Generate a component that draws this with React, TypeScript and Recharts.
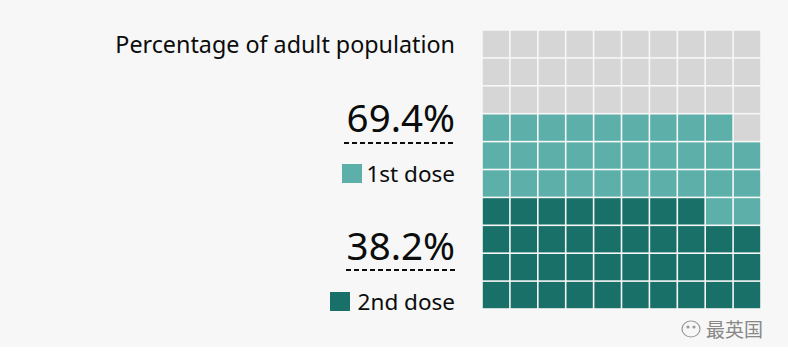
import { ScatterChart, Scatter, XAxis, YAxis } from "recharts";

const doses = ["1st dose", "2nd dose"];
const percentages = [69.4, 38.2];
const doseColors = ["#5db0aa", "#187068"];
const emptyColor = "#d6d6d6";
const gridSize = 10;

// one point per square, filled from the bottom row, left to right
const cells = Array.from({ length: gridSize * gridSize }, (_, i) => ({
  col: i % gridSize,
  row: Math.floor(i / gridSize),
  i,
}));
const secondCells = cells.filter((c) => c.i < Math.round(percentages[1]));
const firstCells = cells.filter(
  (c) => c.i >= Math.round(percentages[1]) && c.i < Math.round(percentages[0])
);
const emptyCells = cells.filter((c) => c.i >= Math.round(percentages[0]));

const W = 788;
const H = 364;
const margin = { top: 30, right: 27, bottom: 55, left: 482 };
const pitch = (W - margin.left - margin.right) / gridSize;

const square = (fill: string) => (props: any) => {
  const s = pitch - 1.6;
  return <rect x={props.cx - s / 2} y={props.cy - s / 2} width={s} height={s} fill={fill} />;
};

const font = "'Noto Sans', Arial, sans-serif";

export default function App() {
  return (
    <div style={{ position: "absolute", left: 0, top: 0, width: W, height: H, background: "#fff" }}>
      <div style={{ position: "absolute", left: 0, top: 0, width: W, height: 347, background: "#f7f7f7" }} />
      <div style={{ position: "absolute", left: 0, top: 0 }}>
        <ScatterChart width={W} height={H} margin={margin}>
          <XAxis type="number" dataKey="col" domain={[-0.5, gridSize - 0.5]} hide />
          <YAxis type="number" dataKey="row" domain={[-0.5, gridSize - 0.5]} hide />
          <Scatter data={emptyCells} shape={square(emptyColor)} isAnimationActive={false} />
          <Scatter data={firstCells} shape={square(doseColors[0])} isAnimationActive={false} />
          <Scatter data={secondCells} shape={square(doseColors[1])} isAnimationActive={false} />
        </ScatterChart>
      </div>
      <svg width={W} height={H} style={{ position: "absolute", left: 0, top: 0 }} fontFamily={font}>
        <text x={455} y={53} textAnchor="end" fontSize={23.3} fill="#0b0c0c">
          Percentage of adult population
        </text>
        <text x={455} y={132} textAnchor="end" fontSize={38.5} fill="#0b0c0c">
          {percentages[0]}%
        </text>
        <line x1={344} x2={455} y1={143} y2={143} stroke="#0b0c0c" strokeWidth={2} strokeDasharray="5 3" />
        <rect x={342} y={164} width={20} height={19} fill={doseColors[0]} />
        <text x={455} y={182} textAnchor="end" fontSize={22.5} fill="#0b0c0c">
          {doses[0]}
        </text>
        <text x={455} y={260} textAnchor="end" fontSize={38.5} fill="#0b0c0c">
          {percentages[1]}%
        </text>
        <line x1={346} x2={455} y1={270} y2={270} stroke="#0b0c0c" strokeWidth={2} strokeDasharray="5 3" />
        <rect x={330} y={292} width={20} height={19} fill={doseColors[1]} />
        <text x={455} y={310} textAnchor="end" fontSize={22.5} fill="#0b0c0c">
          {doses[1]}
        </text>
        <g stroke="#999" strokeWidth={1.2} fill="none">
          <ellipse cx={691} cy={329} rx={9} ry={8} />
          <circle cx={688} cy={327} r={1} fill="#999" />
          <circle cx={694} cy={327} r={1} fill="#999" />
        </g>
        <text x={706} y={337} fontSize={19} fill="#888" fontFamily="'Noto Sans CJK SC', sans-serif">
          最英国
        </text>
      </svg>
    </div>
  );
}
